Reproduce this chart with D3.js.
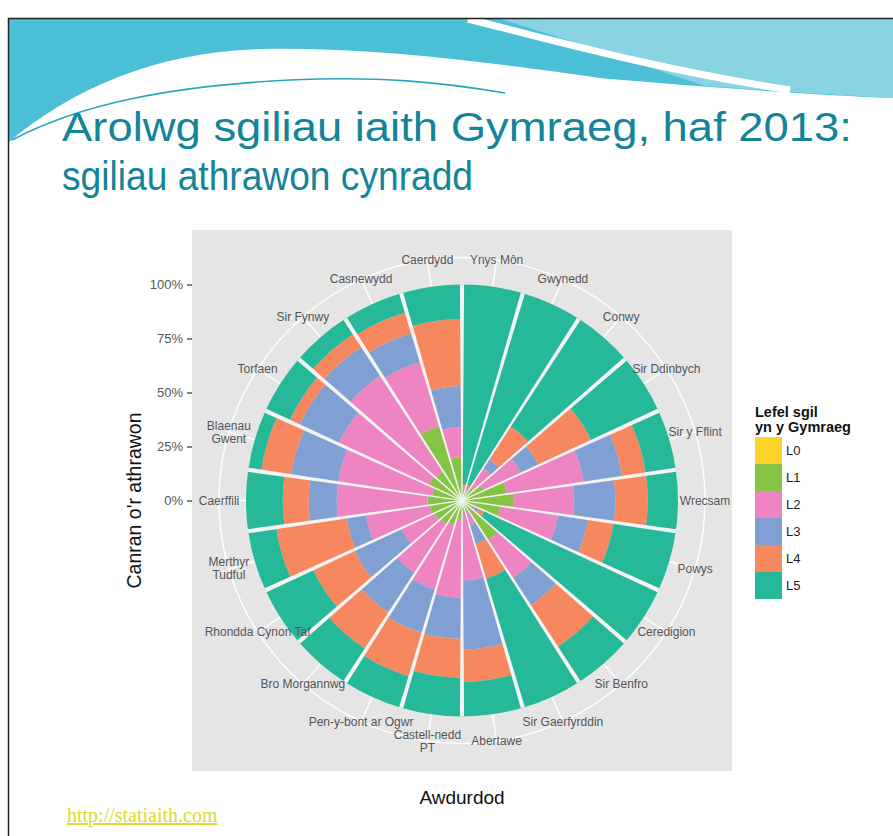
<!DOCTYPE html>
<html lang="cy">
<head>
<meta charset="utf-8">
<title>Arolwg sgiliau iaith Gymraeg, haf 2013</title>
<script src="https://d3js.org/d3.v7.min.js"></script>
<style>
  body { margin: 0; background: #fff; }
  svg { display: block; }
</style>
</head>
<body>
<script>

// Data: share of primary teachers at each Welsh skill level, by authority (%)

var authorities = ["Ynys Môn", "Gwynedd", "Conwy", "Sir Ddinbych", "Sir y Fflint",
  "Wrecsam", "Powys", "Ceredigion", "Sir Benfro", "Sir Gaerfyrddin", "Abertawe",
  "Castell-nedd PT", "Pen-y-bont ar Ogwr", "Bro Morgannwg", "Rhondda Cynon Taf",
  "Merthyr Tudful", "Caerffili", "Blaenau Gwent", "Torfaen", "Sir Fynwy",
  "Casnewydd", "Caerdydd"];

var levels = ["L0", "L1", "L2", "L3", "L4", "L5"];
var levelColours = ["#ffd42a", "#86c544", "#ee85c2", "#809fd2", "#f7875f", "#25b99a"];

var L0 = [1, 1, 1, 1, 1, 1, 1, 1, 1, 1, 1, 1, 1, 1, 1, 1, 1, 1, 1, 1, 1, 1];
var L1 = [4, 3, 6, 10, 20, 23, 17, 4, 21, 5, 4, 8, 11, 12, 13, 14, 15, 13, 16, 15, 35, 19];
var L2 = [1, 1, 11, 19, 36, 28, 27, 2, 21, 6, 32, 36, 31, 27, 17, 30, 42, 44, 46, 53, 31, 14];
var L3 = [0.5, 0.5, 5, 9, 18, 19, 14, 1.5, 15, 9, 32, 19, 21, 22, 24, 9, 13, 22, 20, 16, 14, 19];
var L4 = [1, 2, 18, 27, 11, 15, 12, 3, 23, 17, 15, 18, 21, 20, 21, 33, 12, 14, 5, 7, 10, 31];
var L5 = [92.5, 92.5, 59, 34, 14, 14, 29, 88.5, 19, 62, 16, 18, 15, 18, 24, 13, 17, 6, 12, 8, 9, 16];

var rTicks = [0, 0.25, 0.5, 0.75, 1];
var wrapped = ["Castell-nedd PT", "Blaenau Gwent", "Merthyr Tudful"];

var font = "'Liberation Sans', Arial, sans-serif";

var svg = d3.select("body")
  .append("svg")
    .attr("width", 893)
    .attr("height", 836);

// Slide background

var deco = svg.append("g");

deco.append("path")
    .attr("d", "M9,19H893V98C800,94 690,86 600,78C490,62 370,47 262,49C160,51 72,88 9,142Z")
    .attr("fill", "#4bbfd6");

deco.append("path")
    .attr("d", "M500,19H893V98C830,95 760,90 705,86C640,64 570,40 500,19Z")
    .attr("fill", "#88d4e3");

deco.append("path")
    .attr("d", "M468,19C560,42 660,70 790,90")
    .attr("fill", "none")
    .attr("stroke", "#fff")
    .attr("stroke-width", 7);

deco.append("path")
    .attr("d", "M12,140C80,104 170,86 290,80C380,76 440,82 505,93")
    .attr("fill", "none")
    .attr("stroke", "#2ba5bb")
    .attr("stroke-width", 1.6);

deco.append("path")
    .attr("d", "M8.5,836V18.5H893")
    .attr("fill", "none")
    .attr("stroke", "#222")
    .attr("stroke-width", 1.5);

var title = svg.append("g")
    .attr("fill", "#148499")
    .attr("font-family", font)
    .attr("font-size", 41);

title.append("text")
    .attr("x", 62).attr("y", 141)
    .attr("textLength", 790).attr("lengthAdjust", "spacingAndGlyphs")
    .text("Arolwg sgiliau iaith Gymraeg, haf 2013:");

title.append("text")
    .attr("x", 62).attr("y", 190)
    .attr("textLength", 411).attr("lengthAdjust", "spacingAndGlyphs")
    .text("sgiliau athrawon cynradd");

// Panel and polar scales

var panel = {x: 192, y: 230, w: 540, h: 541};
var cx = panel.x + panel.w / 2,
    cy = panel.y + panel.h / 2,
    rMax = 0.4 * panel.w,
    rOuter = 0.45 * panel.w;

svg.append("rect")
    .attr("x", panel.x).attr("y", panel.y)
    .attr("width", panel.w).attr("height", panel.h)
    .attr("fill", "#e5e5e5");

var theta = d3.scaleBand()
    .domain(authorities)
    .range([0, 2 * Math.PI]);

var r = d3.scaleLinear()
    .domain([0, 100])
    .range([0, rMax]);

var rows = authorities.map(function (a, i) {
  return {name: a, L0: L0[i], L1: L1[i], L2: L2[i], L3: L3[i], L4: L4[i], L5: L5[i]};
});

var series = d3.stack().keys(levels)(rows);

var polar = svg.append("g")
    .attr("transform", "translate(" + cx + "," + cy + ")");

// grid: outer circle and spokes at each category

polar.append("circle")
    .attr("r", rOuter)
    .attr("fill", "none")
    .attr("stroke", "#fff")
    .attr("stroke-width", 1.4);

var mid = function (a) { return theta(a) + theta.bandwidth() / 2; };

polar.selectAll("line.spoke")
    .data(authorities)
  .enter().append("line")
    .attr("class", "spoke")
    .attr("x1", 0).attr("y1", 0)
    .attr("x2", d => rOuter * Math.sin(mid(d)))
    .attr("y2", d => -rOuter * Math.cos(mid(d)))
    .attr("stroke", "#fff")
    .attr("stroke-width", 1.4);

// stacked wedges

var arc = d3.arc()
    .innerRadius(d => r(d[0]))
    .outerRadius(d => r(d[1]))
    .startAngle(d => theta(d.data.name))
    .endAngle(d => theta(d.data.name) + theta.bandwidth());

polar.selectAll("g.level")
    .data(series)
  .enter().append("g")
    .attr("class", "level")
    .attr("fill", (d, i) => levelColours[i])
  .selectAll("path")
    .data(d => d)
  .enter().append("path")
    .attr("d", arc);

// white gaps between authorities, a little wider at the rim

function gapPath(a) {
  var R = r(100), w0 = 0.6, w1 = 2.1;
  var ux = Math.sin(a), uy = -Math.cos(a), px = -uy, py = ux;
  var pts = [
    [px * w0, py * w0],
    [ux * R + px * w1, uy * R + py * w1],
    [ux * R - px * w1, uy * R - py * w1],
    [-px * w0, -py * w0]
  ];
  return "M" + pts.map(p => p[0].toFixed(2) + "," + p[1].toFixed(2)).join("L") + "Z";
}

polar.selectAll("path.gap")
    .data(authorities)
  .enter().append("path")
    .attr("class", "gap")
    .attr("d", d => gapPath(theta(d)))
    .attr("fill", "#f4f4f4");

// authority labels on the outer circle

var labels = polar.selectAll("text.auth")
    .data(authorities)
  .enter().append("text")
    .attr("class", "auth")
    .attr("font-family", font)
    .attr("font-size", 12)
    .attr("fill", "#555")
    .attr("text-anchor", "middle")
    .attr("transform", d => "translate(" + (rOuter * Math.sin(mid(d))) + "," +
      (-rOuter * Math.cos(mid(d))) + ")");

labels.each(function (d) {
  var lines = wrapped.indexOf(d) >= 0 ? [d.slice(0, d.lastIndexOf(" ")), d.slice(d.lastIndexOf(" ") + 1)] : [d];
  var t = d3.select(this);
  lines.forEach(function (s, i) {
    t.append("tspan")
        .attr("x", 0)
        .attr("y", (i - (lines.length - 1) / 2) * 13 + 4)
        .text(s);
  });
});

// radial axis on the left

var y = d3.scaleLinear()
    .domain([0, 1])
    .range([cy, cy - rMax]);

var yAxis = svg.append("g")
    .attr("transform", "translate(" + panel.x + ",0)")
    .call(d3.axisLeft(y).tickValues(rTicks).tickFormat(d3.format(".0%")).tickSize(5).tickPadding(4));

yAxis.select(".domain").remove();
yAxis.selectAll("line").attr("stroke", "#333").attr("stroke-width", 1.2);
yAxis.selectAll("text")
    .attr("font-family", font)
    .attr("font-size", 13)
    .attr("fill", "#555");

svg.append("text")
    .attr("transform", "translate(141," + cy + ") rotate(-90)")
    .attr("text-anchor", "middle")
    .attr("font-family", font)
    .attr("font-size", 19.5)
    .attr("fill", "#111")
    .text("Canran o'r athrawon");

svg.append("text")
    .attr("x", cx).attr("y", 804)
    .attr("text-anchor", "middle")
    .attr("font-family", font)
    .attr("font-size", 19)
    .attr("fill", "#111")
    .text("Awdurdod");

// Legend

var legend = svg.append("g")
    .attr("transform", "translate(755,0)")
    .attr("font-family", font);

legend.append("text")
    .attr("y", 417)
    .attr("font-size", 14.5)
    .attr("font-weight", "bold")
    .attr("fill", "#111")
    .text("Lefel sgil");

legend.append("text")
    .attr("y", 432)
    .attr("font-size", 14.5)
    .attr("font-weight", "bold")
    .attr("fill", "#111")
    .text("yn y Gymraeg");

var keys = legend.selectAll("g.key")
    .data(levels)
  .enter().append("g")
    .attr("class", "key")
    .attr("transform", (d, i) => "translate(0," + (437 + 27 * i) + ")");

keys.append("rect")
    .attr("width", 27)
    .attr("height", 27)
    .attr("fill", (d, i) => levelColours[i]);

keys.append("text")
    .attr("x", 31)
    .attr("y", 18)
    .attr("font-size", 13)
    .attr("fill", "#222")
    .text(d => d);

svg.append("text")
    .attr("x", 67).attr("y", 822)
    .attr("font-family", "'Liberation Serif', serif")
    .attr("font-size", 20)
    .attr("fill", "#dcdc2a")
    .attr("text-decoration", "underline")
    .text("http://statiaith.com");

</script>
</body>
</html>
